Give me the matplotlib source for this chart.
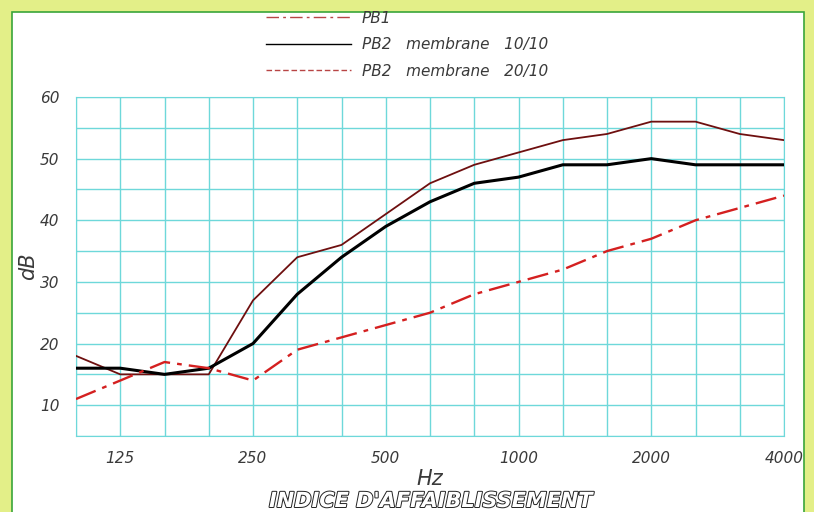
import numpy as np
import matplotlib.pyplot as plt
from matplotlib.lines import Line2D
from matplotlib.patches import Rectangle
import matplotlib.patheffects as pe

freqs = ['100', '125', '160', '200', '250', '315', '400', '500', '630',
         '800', '1000', '1250', '1600', '2000', '2500', '3150', '4000']
shown = ['125', '250', '500', '1000', '2000', '4000']

pb1 = [11, 14, 17, 16, 14, 19, 21, 23, 25, 28, 30, 32, 35, 37, 40, 42, 44]
pb2_10 = [16, 16, 15, 16, 20, 28, 34, 39, 43, 46, 47, 49, 49, 50, 49, 49, 49]
pb2_20 = [18, 15, 15, 15, 27, 34, 36, 41, 46, 49, 51, 53, 54, 56, 56, 54, 53]

x = np.arange(len(freqs))
txt = '#3a3a3a'

fig = plt.figure(figsize=(8.14, 5.12), dpi=100)
fig.patch.set_facecolor('#e3ef88')
fig.patches.append(Rectangle((12/814, -0.05), 792/814, 1.05 - 12/512,
                             transform=fig.transFigure, facecolor='white',
                             edgecolor='#3aa53a', linewidth=1.2, zorder=-10))

ax = fig.add_axes([76/814, 1 - 436/512, 708/814, 339/512])
ax.set_facecolor('white')

ax.plot(x, pb2_20, color='#6e0f0f', lw=1.3, zorder=3)
ax.plot(x, pb2_10, color='black', lw=2.2, zorder=4)
ax.plot(x, pb1, color='#d42020', lw=1.7, dashes=(9, 3, 2, 3), zorder=5)

ax.set_xlim(0, len(freqs) - 1)
ax.set_ylim(5, 60)
ax.set_xticks(x, minor=True)
ax.set_xticks([freqs.index(f) for f in shown])
ax.set_xticklabels(shown)
ax.set_yticks(np.arange(5, 61, 5), minor=True)
ax.set_yticks(np.arange(10, 61, 10))
ax.grid(True, which='both', color='#6ed8da', lw=1.0)
ax.set_axisbelow(True)
for s in ax.spines.values():
    s.set_color('#6ed8da')
ax.tick_params(which='both', length=0, colors=txt, labelsize=11)
ax.tick_params(axis='x', pad=11)
ax.tick_params(axis='y', pad=12)
for lab in ax.get_xticklabels() + ax.get_yticklabels():
    lab.set_fontstyle('italic')

ax.set_xlabel('Hz', fontsize=15, style='italic', color=txt, labelpad=2)
ax.set_ylabel('dB', fontsize=15, style='italic', color=txt, labelpad=1)

handles = [Line2D([], [], color='#b84545', lw=1.0, dashes=(9, 3, 2, 3)),
           Line2D([], [], color='black', lw=1.0),
           Line2D([], [], color='#b84545', lw=1.0, dashes=(4, 2))]
labels = ['PB1', 'PB2   membrane   10/10', 'PB2   membrane   20/10']
fig.legend(handles, labels, loc='upper left', bbox_to_anchor=(252/814, 1.006),
           frameon=False, handlelength=5.6, handletextpad=0.7, labelspacing=0.75,
           prop={'style': 'italic', 'size': 11}, labelcolor=txt)

fig.text(431/814, 11/512, "INDICE D'AFFAIBLISSEMENT", ha='center', va='center',
         fontsize=15, style='italic', fontweight='bold', color='white',
         path_effects=[pe.withStroke(linewidth=1.4, foreground='#222222')])

fig.savefig('out.png', dpi=100, facecolor=fig.get_facecolor())
